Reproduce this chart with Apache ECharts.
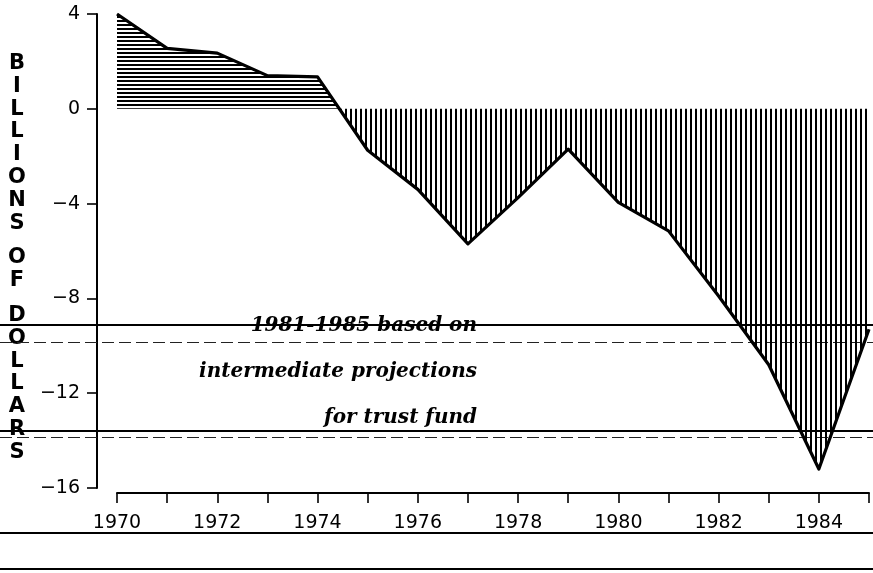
<!DOCTYPE html>
<html>
<head>
<meta charset="utf-8">
<script src="https://cdn.jsdelivr.net/npm/echarts@6/dist/echarts.min.js"></script>
<style>
  html, body { margin: 0; padding: 0; background: #fff; }
  #chart { width: 873px; height: 573px; }
</style>
</head>
<body>
<div id="chart"></div>
<script>
// ---- data ----
const years = [1970, 1971, 1972, 1973, 1974, 1975, 1976, 1977, 1978, 1979, 1980, 1981, 1982, 1983, 1984, 1985];
const balance = [4.0, 2.55, 2.35, 1.4, 1.35, -1.75, -3.4, -5.7, -3.75, -1.7, -3.95, -5.15, -7.9, -10.8, -15.2, -9.3];
const yTickValues = [-16, -12, -8, -4, 0, 4];
const xLabelYears = [1970, 1972, 1974, 1976, 1978, 1980, 1982, 1984];
const yAxisTitle = 'BILLIONS OF DOLLARS';
const noteLines = ['1981-1985 based on', 'intermediate projections', 'for trust fund'];

// ---- hatch patterns ----
function makePattern(w, h, vertical) {
  const c = document.createElement('canvas');
  c.width = w; c.height = h;
  const ctx = c.getContext('2d');
  ctx.fillStyle = '#000';
  if (vertical) ctx.fillRect(0, 0, 2, h); else ctx.fillRect(0, 0, w, 2);
  return c;
}
const hPattern = makePattern(1, 4, false);
const vPattern = makePattern(5, 1, true);

// ---- split the area at the zero crossing (computed from the data) ----
const pts = years.map((y, i) => [y, balance[i]]);
const posPts = [], negPts = [];
for (let i = 0; i < pts.length; i++) {
  const v = balance[i];
  if (v >= 0) posPts.push(pts[i]); else negPts.push(pts[i]);
  if (i < pts.length - 1) {
    const n = balance[i + 1];
    if ((v >= 0 && n < 0) || (v < 0 && n >= 0)) {
      const xc = years[i] + v / (v - n) * (years[i + 1] - years[i]);
      posPts.push([xc, 0]);
      negPts.push([xc, 0]);
    }
  }
}

// vertical stacked axis title
const titleName = yAxisTitle.split(' ').map(w => w.split('').join('\n')).join('\n{s| }\n');

const FONT = '"DejaVu Sans", sans-serif';
const chart = echarts.init(document.getElementById('chart'), null, { renderer: 'canvas' });

const noteY = [326, 372, 418];
const ruled = [
  { y: 325, dash: false, w: 2 },
  { y: 342.5, dash: true, w: 1 },
  { y: 431, dash: false, w: 2 },
  { y: 437.5, dash: true, w: 1 },
  { y: 533, dash: false, w: 2 },
  { y: 569, dash: false, w: 2 }
];

chart.setOption({
  animation: false,
  backgroundColor: '#fff',
  grid: { left: 117, right: 4, top: 14, bottom: 85, containLabel: false },
  xAxis: {
    type: 'value',
    min: 1970, max: 1985, interval: 1,
    offset: 5,
    splitLine: { show: false },
    axisLine: { show: true, onZero: false, lineStyle: { color: '#000', width: 2 } },
    axisTick: { show: true, length: 10, lineStyle: { color: '#000', width: 1.6 } },
    axisLabel: {
      margin: 21, color: '#000', fontFamily: FONT, fontSize: 19,
      showMinLabel: true, showMaxLabel: true,
      formatter: v => (xLabelYears.indexOf(v) >= 0 ? String(v) : '')
    }
  },
  yAxis: {
    type: 'value',
    min: -16, max: 4, interval: 4,
    offset: 20,
    splitLine: { show: false },
    axisLine: { show: true, lineStyle: { color: '#000', width: 2 } },
    axisTick: { show: true, length: 10, lineStyle: { color: '#000', width: 1.6 } },
    axisLabel: {
      margin: 17, color: '#000', fontFamily: FONT, fontSize: 19,
      formatter: v => (yTickValues.indexOf(v) >= 0 ? (v < 0 ? '\u2212' + Math.abs(v) : String(v)) : '')
    },
    name: titleName,
    nameLocation: 'middle',
    nameRotate: 0,
    nameGap: 80,
    nameTextStyle: {
      align: 'center', verticalAlign: 'middle',
      color: '#000', fontFamily: FONT, fontWeight: 'bold', fontSize: 21,
      lineHeight: 22.8, padding: [14, 0, 0, 0],
      rich: { s: { lineHeight: 12, fontSize: 8 } }
    }
  },
  series: [
    {
      name: 'surplus', type: 'line', data: posPts, symbol: 'none', silent: true,
      lineStyle: { width: 0 },
      areaStyle: { color: { image: hPattern, repeat: 'repeat' }, opacity: 1 },
      z: 2
    },
    {
      name: 'deficit', type: 'line', data: negPts, symbol: 'none', silent: true,
      lineStyle: { width: 0 },
      areaStyle: { color: { image: vPattern, repeat: 'repeat' }, opacity: 1 },
      z: 2
    },
    {
      name: 'balance', type: 'line', data: pts, symbol: 'none', silent: true,
      lineStyle: { color: '#000', width: 3.2, join: 'round' },
      z: 3
    }
  ],
  graphic: [
    ...ruled.map(r => ({
      type: 'line', silent: true, z: 1,
      shape: { x1: 0, y1: r.y, x2: 873, y2: r.y },
      style: { stroke: r.dash ? '#222' : '#000', lineWidth: r.w, lineDash: r.dash ? [12, 5] : null }
    })),
    ...noteLines.map((t, i) => ({
      type: 'text', silent: true, z: 10,
      x: 477, y: noteY[i],
      style: {
        text: t, align: 'right', verticalAlign: 'middle',
        font: 'italic bold 20px "DejaVu Serif", serif', fill: '#000'
      }
    }))
  ]
});
</script>
</body>
</html>
